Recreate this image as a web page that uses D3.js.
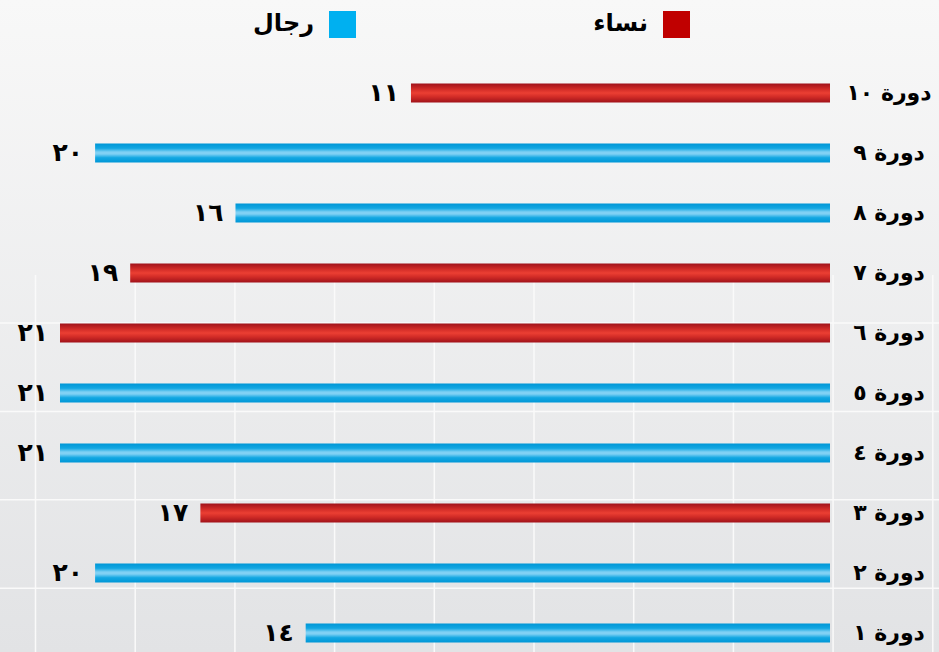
<!DOCTYPE html>
<html>
<head>
<meta charset="utf-8">
<script src="https://cdn.jsdelivr.net/npm/d3@7"></script>
<style>
	body { margin: 0; padding: 0; overflow: hidden; }
	svg { display: block; }
	.catLabel, .valLabel, .legendText { font-family: "DejaVu Sans", sans-serif; font-weight: bold; fill: #000; }
</style>
</head>
<body>
<div id="viz"></div>
<script>
	// data, top row first
	var cycleLabels = ["دورة ١٠", "دورة ٩", "دورة ٨", "دورة ٧", "دورة ٦", "دورة ٥", "دورة ٤", "دورة ٣", "دورة ٢", "دورة ١"];
	var values = [11, 20, 16, 19, 21, 21, 21, 17, 20, 14];
	var groups = ["f", "m", "m", "f", "f", "m", "m", "f", "m", "m"];
	var legendLabels = { f: "نساء", m: "رجال" };

	var width = 939, height = 652;
	var xMin = -0.94;

	function arDigits(n) {
		var digits = "٠١٢٣٤٥٦٧٨٩";
		return String(n).split("").map(function (c) { return digits[+c]; }).join("");
	}

	var data = cycleLabels.map(function (c, i) {
		return { cycle: c, value: values[i], group: groups[i] };
	});

	var xScale = d3.scaleLinear()
		.domain([xMin, d3.max(values)])
		.range([830, 60]);

	var yScale = d3.scalePoint()
		.domain(cycleLabels)
		.range([93, 633]);

	var barH = 19;

	var svg = d3.select("#viz")
		.append("svg")
		.attr("width", width)
		.attr("height", height);

	var defs = svg.append("defs");

	var bg = defs.append("linearGradient")
		.attr("id", "bgGrad")
		.attr("x1", 0).attr("y1", 0).attr("x2", 0).attr("y2", 1);
	bg.append("stop").attr("offset", "0%").attr("stop-color", "#f8f8f8");
	bg.append("stop").attr("offset", "100%").attr("stop-color", "#e2e3e5");

	var redGrad = defs.append("linearGradient")
		.attr("id", "gradf")
		.attr("x1", 0).attr("y1", 0).attr("x2", 0).attr("y2", 1);
	[["0%", "#a0121a"], ["30%", "#d22c27"], ["50%", "#eb3f33"], ["70%", "#d22c27"], ["100%", "#a0121a"]].forEach(function (s) {
		redGrad.append("stop").attr("offset", s[0]).attr("stop-color", s[1]);
	});

	var blueGrad = defs.append("linearGradient")
		.attr("id", "gradm")
		.attr("x1", 0).attr("y1", 0).attr("x2", 0).attr("y2", 1);
	[["0%", "#0096d6"], ["25%", "#12a7e2"], ["45%", "#80d1f4"], ["55%", "#80d1f4"], ["75%", "#12a7e2"], ["100%", "#0096d6"]].forEach(function (s) {
		blueGrad.append("stop").attr("offset", s[0]).attr("stop-color", s[1]);
	});

	svg.append("rect")
		.attr("width", width)
		.attr("height", height)
		.attr("fill", "url(#bgGrad)");

	// background grid (lower part only)
	var gridTop = 275;
	var grid = svg.append("g").attr("class", "grid");

	grid.selectAll("line.v")
		.data(d3.range(10))
		.enter().append("line")
		.attr("class", "v")
		.attr("x1", function (d) { return 35.5 + d * 99.7; })
		.attr("x2", function (d) { return 35.5 + d * 99.7; })
		.attr("y1", gridTop)
		.attr("y2", height)
		.attr("stroke", "#fafafa")
		.attr("stroke-width", 1.5);

	grid.selectAll("line.h")
		.data(d3.range(4))
		.enter().append("line")
		.attr("class", "h")
		.attr("x1", 0)
		.attr("x2", width)
		.attr("y1", function (d) { return 323 + d * 88.4; })
		.attr("y2", function (d) { return 323 + d * 88.4; })
		.attr("stroke", "#fafafa")
		.attr("stroke-width", 1.5);

	// bars
	svg.selectAll("rect.bar")
		.data(data)
		.enter().append("rect")
		.attr("class", "bar")
		.attr("x", function (d) { return xScale(d.value); })
		.attr("y", function (d) { return yScale(d.cycle) - barH / 2; })
		.attr("width", function (d) { return xScale(xMin) - xScale(d.value); })
		.attr("height", barH)
		.attr("fill", function (d) { return "url(#grad" + d.group + ")"; });

	// value labels
	svg.selectAll("text.valLabel")
		.data(data)
		.enter().append("text")
		.attr("class", "valLabel")
		.attr("x", function (d) { return xScale(d.value) - 12; })
		.attr("y", function (d) { return yScale(d.cycle) + 8; })
		.attr("text-anchor", "end")
		.style("font-size", "25px")
		.style("letter-spacing", "4px")
		.text(function (d) { return arDigits(d.value); });

	// category labels
	svg.selectAll("text.catLabel")
		.data(data)
		.enter().append("text")
		.attr("class", "catLabel")
		.attr("x", 889)
		.attr("y", function (d) { return yScale(d.cycle) + 7; })
		.attr("text-anchor", "middle")
		.style("font-size", "22px")
		.text(function (d) { return d.cycle; });

	// legend
	var legendItems = [
		{ key: "f", x: 663, color: "#c00000" },
		{ key: "m", x: 329, color: "#00b0f0" }
	];

	var legend = svg.selectAll("g.legend")
		.data(legendItems)
		.enter().append("g")
		.attr("class", "legend")
		.attr("transform", function (d) { return "translate(" + d.x + ",11)"; });

	legend.append("rect")
		.attr("width", 27)
		.attr("height", 27)
		.attr("fill", function (d) { return d.color; });

	legend.append("text")
		.attr("class", "legendText")
		.attr("x", -15)
		.attr("y", 20)
		.attr("text-anchor", "end")
		.style("font-size", "24px")
		.text(function (d) { return legendLabels[d.key]; });
</script>
</body>
</html>
